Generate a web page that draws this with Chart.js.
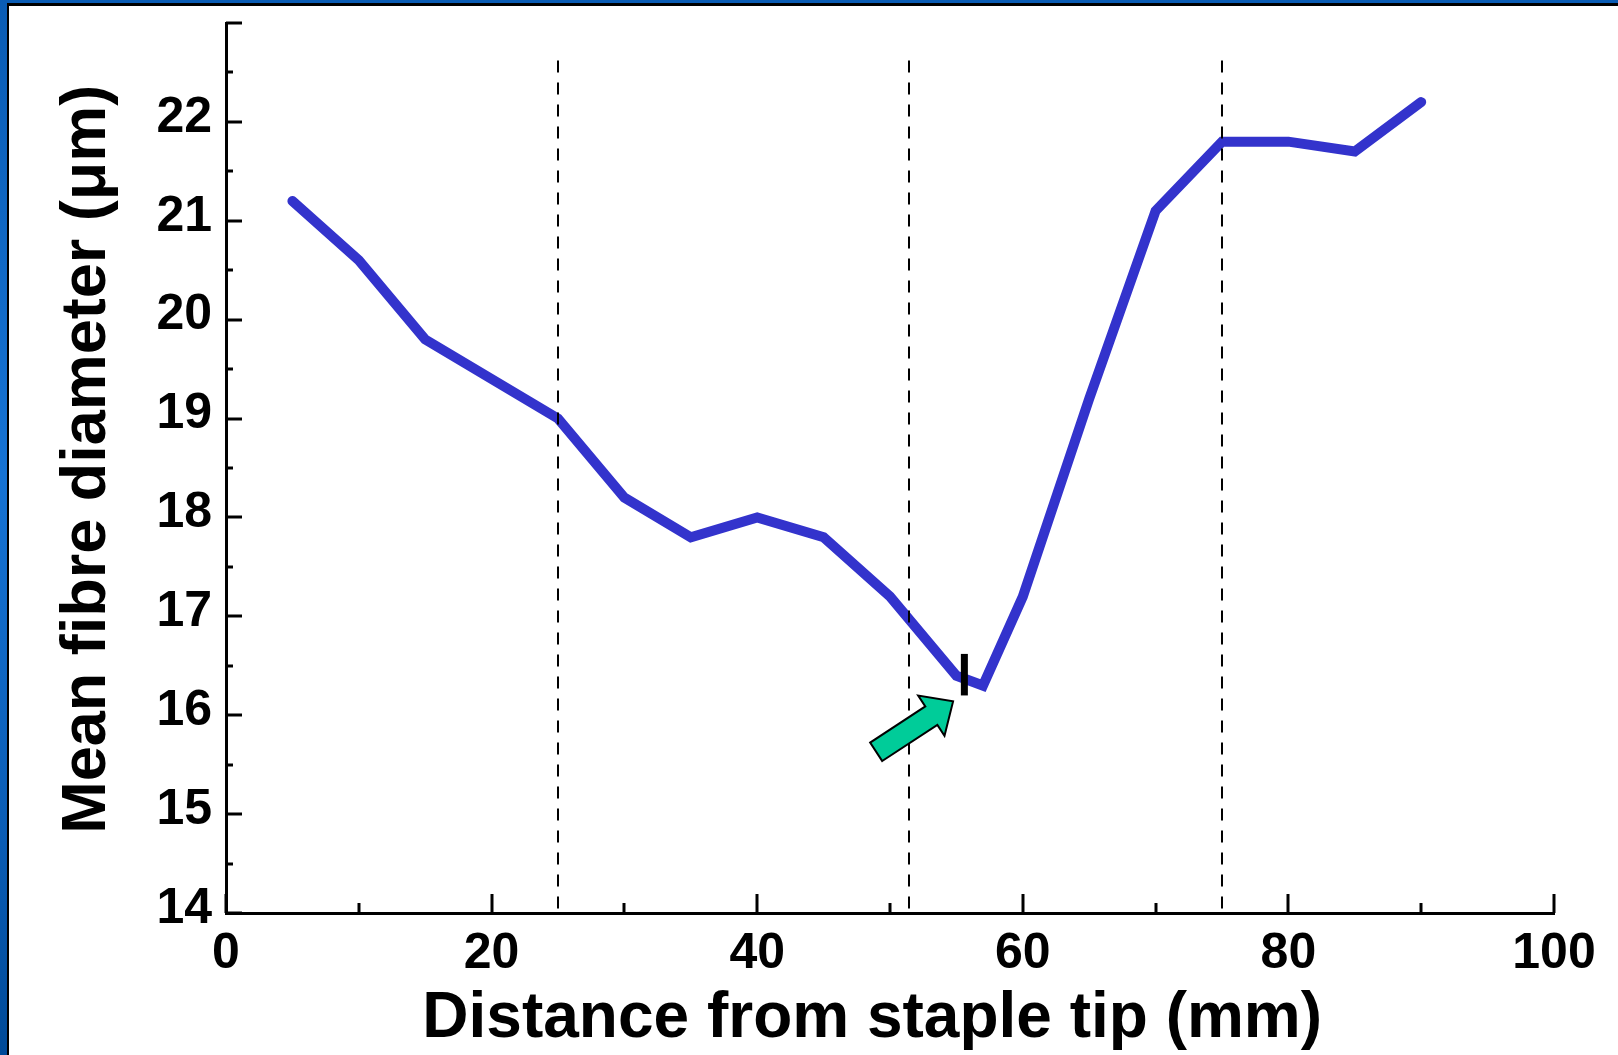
<!DOCTYPE html>
<html>
<head>
<meta charset="utf-8">
<script src="https://cdn.jsdelivr.net/npm/chart.js@4.4.1/dist/chart.umd.min.js"></script>
<style>
  html, body { margin: 0; padding: 0; }
  body {
    width: 1618px; height: 1055px; overflow: hidden;
    background: linear-gradient(to bottom, #0a5cb4 0%, #1673d4 45%, #0a5cb4 80%, #004a98 100%);
  }
  #frame {
    position: absolute; left: 7px; top: 3px;
    border-left: 2px solid #000; border-top: 3px solid #000;
    width: 1609px; height: 1049px; background: #fff;
  }
  canvas { display: block; }
</style>
</head>
<body>
<div id="frame"><canvas id="chart" width="1609" height="1049"></canvas></div>
<script>
// distance from staple tip (mm) and mean fibre diameter (µm)
const distance = [5, 10, 15, 25, 30, 35, 40, 45, 50, 55, 57, 60, 65, 70, 75, 80, 85, 90];
const diameter = [21.2, 20.6, 19.8, 19.0, 18.2, 17.8, 18.0, 17.8, 17.2, 16.4, 16.3, 17.2, 19.2, 21.1, 21.8, 21.8, 21.7, 22.2];

// vertical dashed markers (mm) and where they start (µm)
const markerX = [25, 51.4, 75];
const markerTop = 22.62;

// black break mark and green arrow (data units)
const breakMark = { x: 55.6, from: 16.2, to: 16.62 };
const arrow = { tipX: 54.75, tipY: 16.14, tailX: 48.96, tailY: 15.63 };

const FONT = '"Liberation Sans", Arial, Helvetica, sans-serif';

const overlay = {
    id: 'overlay',
    afterDatasetsDraw(chart) {
        const { ctx, scales: { x, y } } = chart;
        ctx.save();

        // dashed lines
        ctx.strokeStyle = '#000';
        ctx.lineWidth = 2;
        ctx.setLineDash([12, 10]);
        markerX.forEach(v => {
            const px = Math.round(x.getPixelForValue(v));
            ctx.beginPath();
            ctx.moveTo(px, y.getPixelForValue(markerTop));
            ctx.lineTo(px, y.bottom);
            ctx.stroke();
        });
        ctx.setLineDash([]);

        // break mark
        ctx.lineWidth = 7;
        const bx = x.getPixelForValue(breakMark.x);
        ctx.beginPath();
        ctx.moveTo(bx, y.getPixelForValue(breakMark.to));
        ctx.lineTo(bx, y.getPixelForValue(breakMark.from));
        ctx.stroke();

        // arrow
        const tx = x.getPixelForValue(arrow.tipX), ty = y.getPixelForValue(arrow.tipY);
        const sx = x.getPixelForValue(arrow.tailX), sy = y.getPixelForValue(arrow.tailY);
        const len = Math.hypot(tx - sx, ty - sy);
        const ux = (tx - sx) / len, uy = (ty - sy) / len;
        const nx = -uy, ny = ux;
        const head = 26, headHalf = 24, shaftHalf = 11;
        const bxh = tx - ux * head, byh = ty - uy * head;
        ctx.beginPath();
        ctx.moveTo(sx + nx * shaftHalf, sy + ny * shaftHalf);
        ctx.lineTo(bxh + nx * shaftHalf, byh + ny * shaftHalf);
        ctx.lineTo(bxh + nx * headHalf, byh + ny * headHalf);
        ctx.lineTo(tx, ty);
        ctx.lineTo(bxh - nx * headHalf, byh - ny * headHalf);
        ctx.lineTo(bxh - nx * shaftHalf, byh - ny * shaftHalf);
        ctx.lineTo(sx - nx * shaftHalf, sy - ny * shaftHalf);
        ctx.closePath();
        ctx.fillStyle = '#00cc99';
        ctx.fill();
        ctx.lineWidth = 2;
        ctx.lineJoin = 'miter';
        ctx.strokeStyle = '#000';
        ctx.stroke();

        ctx.restore();
    },
    afterDraw(chart) {
        // inward tick marks
        const { ctx, scales: { x, y } } = chart;
        ctx.save();
        ctx.strokeStyle = '#000';
        ctx.lineWidth = 3;
        for (let v = 14; v <= 23; v += 0.5) {
            const py = Math.round(y.getPixelForValue(v));
            const l = Number.isInteger(v) ? 16 : 7;
            ctx.beginPath();
            ctx.moveTo(x.left, py);
            ctx.lineTo(x.left + l, py);
            ctx.stroke();
        }
        for (let v = 0; v <= 100; v += 10) {
            const px = Math.round(x.getPixelForValue(v));
            const l = v % 20 === 0 ? 19 : 10;
            ctx.beginPath();
            ctx.moveTo(px, y.bottom);
            ctx.lineTo(px, y.bottom - l);
            ctx.stroke();
        }
        ctx.restore();
    }
};

new Chart(document.getElementById('chart'), {
    type: 'line',
    data: {
        datasets: [{
            label: 'Mean fibre diameter',
            data: distance.map((d, i) => ({ x: d, y: diameter[i] })),
            borderColor: '#3333cc',
            borderWidth: 10,
            borderCapStyle: 'round',
            pointRadius: 0,
            tension: 0,
            fill: false,
        }],
    },
    options: {
        responsive: false,
        animation: false,
        devicePixelRatio: 1,
        layout: { padding: { left: 0, top: 17, right: 64, bottom: 0 } },
        plugins: {
            legend: { display: false },
            tooltip: { enabled: false },
        },
        scales: {
            x: {
                type: 'linear',
                min: 0,
                max: 100,
                grid: { display: false },
                border: { display: true, color: '#000', width: 3 },
                ticks: {
                    stepSize: 20,
                    color: '#000',
                    padding: 3,
                    maxRotation: 0,
                    font: { family: FONT, size: 50, weight: 'bold' },
                },
                title: {
                    display: true,
                    // trailing spaces nudge the centred title left like the original
                    text: 'Distance from staple tip (mm)  ',
                    color: '#000',
                    padding: { top: 0, bottom: 4 },
                    font: { family: FONT, size: 64, weight: 'bold', lineHeight: 1 },
                },
                afterFit: scale => { scale.height = 142; },
            },
            y: {
                min: 14,
                max: 23,
                grid: { display: false },
                border: { display: true, color: '#000', width: 3 },
                ticks: {
                    stepSize: 1,
                    color: '#000',
                    padding: 6,
                    labelOffset: -4,
                    font: { family: FONT, size: 50, weight: 'bold' },
                    callback: v => (v === 23 ? '' : v),
                },
                title: {
                    display: true,
                    text: ' Mean fibre diameter (μm)',
                    color: '#000',
                    padding: { top: 47, bottom: 0 },
                    font: { family: FONT, size: 63, weight: 'bold', lineHeight: 1 },
                },
                afterFit: scale => {
                    scale.width = 217;
                    scale.paddingTop = 0;
                    scale.paddingBottom = 0;
                },
            },
        },
    },
    plugins: [overlay],
});
</script>
</body>
</html>
